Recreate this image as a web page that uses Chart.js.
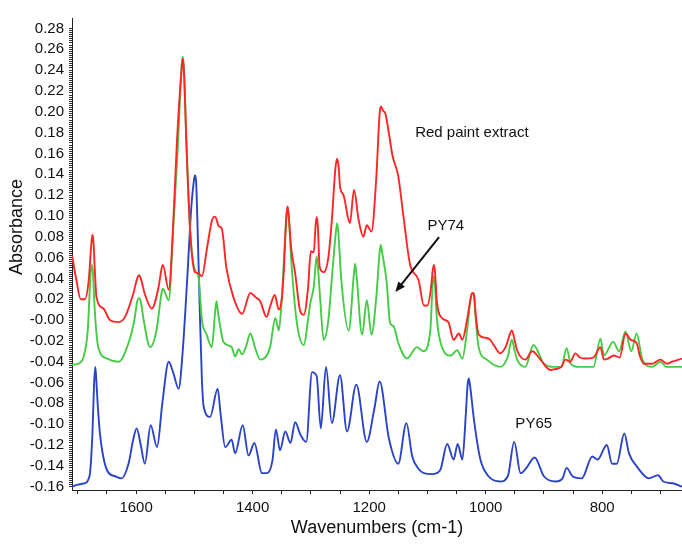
<!DOCTYPE html>
<html>
<head>
<meta charset="utf-8">
<script src="https://cdn.jsdelivr.net/npm/chart.js@4.4.1/dist/chart.umd.min.js"></script>
<style>
  html, body { margin: 0; padding: 0; background: #fff; }
</style>
</head>
<body>
<canvas id="espectro" width="682" height="544"></canvas>
<script>
// Red paint extract
const redWn = [1710,1703,1695,1688,1681,1677,1675,1673,1671,1668,1656,1645,1630,1619,1605,1598,1595,1592,1585,1573,
  1562,1556,1554,1544,1536,1530,1522,1520,1518,1513,1507,1499,1493,1487,1478,1470,1466,1464,1458,1453,
  1445,1433,1418,1404,1395,1387,1376,1370,1362,1355,1350,1347,1342,1340,1338,1334,1327,1318,1312,1305,
  1300,1295,1292,1290,1288,1285,1278,1270,1264,1258,1255,1252,1250,1244,1233,1226,1218,1210,1204,1196,
  1188,1182,1180,1176,1172,1166,1160,1150,1141,1130,1115,1106,1100,1094,1091,1089,1087,1084,1075,1064,
  1055,1046,1040,1032,1026,1024,1022,1020,1017,1012,1000,992,985,975,965,955,950,946,932,920,
  906,889,880,870,863,855,846,838,829,815,803,797,790,780,770,760,751,741,735,728,
  715,700,689,680,663];
const redAbs = [0.062,0.040,0.020,0.020,0.040,0.072,0.082,0.074,0.050,0.022,0.011,0.000,-0.002,0.003,0.025,0.040,0.043,0.040,0.025,0.011,
  0.030,0.050,0.053,0.029,0.096,0.170,0.240,0.251,0.240,0.160,0.083,0.046,0.045,0.042,0.070,0.095,0.099,0.099,0.090,0.088,
  0.050,0.022,0.006,0.026,0.022,0.018,0.003,0.013,0.024,0.010,0.020,0.042,0.100,0.109,0.100,0.070,0.045,0.008,0.005,0.030,
  0.066,0.065,0.090,0.099,0.090,0.051,0.046,0.060,0.096,0.145,0.155,0.145,0.128,0.120,0.093,0.125,0.096,0.080,0.091,0.085,
  0.134,0.198,0.205,0.201,0.198,0.179,0.158,0.138,0.099,0.054,0.038,0.014,0.014,0.030,0.047,0.053,0.047,0.019,0.002,-0.002,
  -0.019,-0.013,-0.019,0.000,0.020,0.025,0.026,0.024,0.005,-0.014,-0.017,-0.019,-0.025,-0.032,-0.025,-0.010,-0.020,-0.029,-0.038,-0.030,
  -0.038,-0.048,-0.047,-0.045,-0.038,-0.040,-0.032,-0.036,-0.037,-0.036,-0.026,-0.038,-0.037,-0.034,-0.036,-0.013,-0.019,-0.022,-0.035,-0.042,
  -0.042,-0.038,-0.042,-0.040,-0.037];

// PY74
const greenWn = [1710,1700,1690,1683,1678,1676,1674,1671,1665,1650,1630,1613,1603,1598,1595,1592,1587,1576,1565,1556,
  1554,1544,1536,1528,1522,1520,1518,1513,1507,1499,1493,1487,1479,1470,1464,1462,1460,1456,1450,1436,
  1430,1424,1418,1411,1404,1395,1387,1370,1361,1355,1350,1342,1340,1338,1334,1324,1312,1305,1301,1295,
  1292,1290,1288,1284,1278,1270,1264,1257,1255,1253,1248,1235,1226,1224,1222,1212,1204,1196,1188,1182,
  1180,1178,1170,1164,1158,1150,1135,1118,1107,1095,1091,1089,1087,1084,1075,1060,1049,1040,1032,1026,
  1024,1022,1020,1017,1012,998,975,962,955,950,946,932,918,900,883,870,861,854,840,815,
  803,797,781,771,760,750,741,731,714,700,690,663];
const greenAbs = [-0.043,-0.042,-0.035,-0.010,0.045,0.053,0.045,0.010,-0.026,-0.037,-0.040,-0.022,0.000,0.018,0.021,0.018,0.000,-0.026,-0.010,0.027,
  0.030,0.019,0.090,0.170,0.243,0.253,0.243,0.160,0.085,0.048,0.042,0.000,-0.014,-0.026,0.010,0.018,0.010,-0.005,-0.021,-0.026,
  -0.035,-0.028,-0.033,-0.025,-0.013,-0.028,-0.038,-0.026,0.002,-0.010,0.020,0.100,0.109,0.100,0.060,-0.003,-0.024,0.000,0.016,0.032,
  0.052,0.061,0.052,0.020,-0.019,0.000,0.040,0.085,0.093,0.085,0.040,-0.010,0.045,0.054,0.045,-0.014,0.019,-0.014,0.020,0.065,
  0.072,0.066,0.037,-0.003,-0.006,-0.022,-0.037,-0.026,-0.030,-0.010,0.034,0.042,0.034,0.003,-0.026,-0.034,-0.029,-0.037,-0.010,0.020,
  0.025,0.026,0.024,0.000,-0.026,-0.038,-0.045,-0.035,-0.019,-0.030,-0.038,-0.045,-0.024,-0.042,-0.045,-0.045,-0.027,-0.042,-0.045,-0.045,
  -0.018,-0.034,-0.021,-0.030,-0.011,-0.030,-0.013,-0.038,-0.045,-0.040,-0.045,-0.045];

// PY65
const blueWn = [1710,1700,1690,1680,1675,1672,1670,1668,1666,1662,1650,1636,1625,1613,1605,1599,1592,1585,1575,1564,
  1555,1544,1536,1527,1520,1513,1505,1501,1499,1497,1495,1491,1487,1484,1473,1460,1455,1447,1436,1430,
  1417,1407,1397,1384,1375,1366,1360,1353,1344,1335,1327,1318,1308,1298,1290,1283,1274,1264,1250,1238,
  1222,1204,1191,1182,1166,1150,1136,1126,1115,1106,1092,1078,1066,1055,1048,1040,1034,1031,1029,1027,
  1020,1009,995,975,962,951,940,930,916,900,880,868,861,851,835,817,808,792,783,775,
  762,754,740,720,704,695,677,663];
const blueAbs = [-0.160,-0.158,-0.157,-0.150,-0.110,-0.060,-0.045,-0.060,-0.080,-0.109,-0.144,-0.150,-0.152,-0.138,-0.115,-0.104,-0.120,-0.138,-0.101,-0.122,
  -0.080,-0.040,-0.051,-0.066,-0.030,0.032,0.110,0.133,0.139,0.133,0.100,0.016,-0.058,-0.083,-0.093,-0.066,-0.090,-0.122,-0.115,-0.128,
  -0.101,-0.130,-0.118,-0.147,-0.147,-0.135,-0.105,-0.125,-0.107,-0.118,-0.098,-0.110,-0.117,-0.050,-0.054,-0.104,-0.045,-0.099,-0.053,-0.107,
  -0.062,-0.117,-0.085,-0.059,-0.114,-0.138,-0.099,-0.131,-0.143,-0.147,-0.148,-0.144,-0.119,-0.134,-0.119,-0.134,-0.090,-0.062,-0.056,-0.062,
  -0.096,-0.134,-0.150,-0.155,-0.150,-0.117,-0.147,-0.142,-0.132,-0.150,-0.155,-0.152,-0.142,-0.150,-0.152,-0.131,-0.134,-0.120,-0.138,-0.138,
  -0.109,-0.128,-0.141,-0.152,-0.149,-0.155,-0.157,-0.160];

// rótulos dos eixos
const yMajor = [-0.16,-0.14,-0.12,-0.10,-0.08,-0.06,-0.04,-0.02,0,0.02,0.04,0.06,0.08,0.10,0.12,0.14,0.16,0.18,0.20,0.22,0.24,0.26,0.28];
const yTickLabels = ['-0.16','-0.14','-0.12','-0.10','-0.08','-0.06','-0.04','-0.02','-0.00','0.02','0.04','0.06','0.08','0.10','0.12','0.14','0.16','0.18','0.20','0.22','0.24','0.26','0.28'];
const xMajor = [1600, 1400, 1200, 1000, 800];
const xTickLabels = ['1600', '1400', '1200', '1000', '800'];

const fonte = '"Liberation Sans", Arial, sans-serif';

function pares(wn, abs) {
  return wn.map((w, i) => ({ x: w, y: abs[i] }));
}

// textos e seta desenhados por cima do gráfico
const anotacoes = {
  id: 'anotacoes',
  afterDraw(chart) {
    const { ctx, scales: { x, y }, chartArea } = chart;
    ctx.save();
    ctx.fillStyle = '#111';
    ctx.font = '15px ' + fonte;
    ctx.textBaseline = 'middle';
    ctx.textAlign = 'left';
    ctx.fillText('Red paint extract', x.getPixelForValue(1121), y.getPixelForValue(0.1795));
    ctx.fillText('PY74', x.getPixelForValue(1100), y.getPixelForValue(0.0903));
    ctx.fillText('PY65', x.getPixelForValue(949), y.getPixelForValue(-0.0998));

    // seta apontando para o PY74
    const x0 = x.getPixelForValue(1080), y0 = y.getPixelForValue(0.0797);
    const x1 = x.getPixelForValue(1155), y1 = y.getPixelForValue(0.0269);
    const ang = Math.atan2(y1 - y0, x1 - x0);
    ctx.strokeStyle = '#111';
    ctx.lineWidth = 2;
    ctx.beginPath();
    ctx.moveTo(x0, y0);
    ctx.lineTo(x1 - 6 * Math.cos(ang), y1 - 6 * Math.sin(ang));
    ctx.stroke();
    ctx.beginPath();
    ctx.moveTo(x1, y1);
    ctx.lineTo(x1 - 11 * Math.cos(ang - 0.4), y1 - 11 * Math.sin(ang - 0.4));
    ctx.lineTo(x1 - 11 * Math.cos(ang + 0.4), y1 - 11 * Math.sin(ang + 0.4));
    ctx.closePath();
    ctx.fill();

    // títulos dos eixos
    ctx.font = '18px ' + fonte;
    ctx.textAlign = 'center';
    ctx.fillText('Wavenumbers (cm-1)', (chartArea.left + chartArea.right) / 2, 528);
    ctx.translate(17, 227);
    ctx.rotate(-Math.PI / 2);
    ctx.fillText('Absorbance', 0, 0);
    ctx.restore();
  }
};

const serie = (label, wn, abs, cor) => ({
  label: label,
  data: pares(wn, abs),
  borderColor: cor,
  borderWidth: 1.9,
  pointRadius: 0,
  fill: false,
  cubicInterpolationMode: 'monotone'
});

new Chart(document.getElementById('espectro'), {
  type: 'line',
  data: {
    datasets: [
      serie('Red paint extract', redWn, redAbs, '#ff2626'),
      serie('PY74', greenWn, greenAbs, '#44cc44'),
      serie('PY65', blueWn, blueAbs, '#2a44c8')
    ]
  },
  options: {
    responsive: false,
    animation: false,
    devicePixelRatio: 1,
    layout: { padding: { top: 18, left: 0, right: 0, bottom: 0 } },
    plugins: { legend: { display: false }, tooltip: { enabled: false } },
    scales: {
      x: {
        type: 'linear',
        reverse: true,
        min: 663,
        max: 1710,
        afterBuildTicks: (axis) => {
          const t = [];
          for (let v = 700; v <= 1700; v += 50) t.push({ value: v });
          axis.ticks = t;
        },
        afterFit: (scale) => { scale.height = 54; },
        ticks: {
          autoSkip: false,
          maxRotation: 0,
          padding: 5,
          color: '#111',
          font: { family: fonte, size: 15 },
          callback: (value) => {
            const i = xMajor.indexOf(value);
            return i >= 0 ? xTickLabels[i] : '';
          }
        },
        grid: { drawOnChartArea: false, tickLength: 4, color: '#222' },
        border: { color: '#222', width: 1 }
      },
      y: {
        min: -0.1632,
        max: 0.29,
        afterBuildTicks: (axis) => {
          const t = [];
          for (let i = -80; i <= 140; i++) t.push({ value: i * 0.002 });
          axis.ticks = t;
        },
        afterFit: (scale) => { scale.width = 72; },
        ticks: {
          autoSkip: false,
          padding: 5,
          color: '#111',
          font: { family: fonte, size: 15 },
          callback: (value) => {
            const i = yMajor.findIndex(v => Math.abs(v - value) < 1e-6);
            return i >= 0 ? yTickLabels[i] : '';
          }
        },
        grid: { drawOnChartArea: false, tickLength: 3, color: '#333' },
        border: { color: '#222', width: 1 }
      }
    }
  },
  plugins: [anotacoes]
});
</script>
</body>
</html>
